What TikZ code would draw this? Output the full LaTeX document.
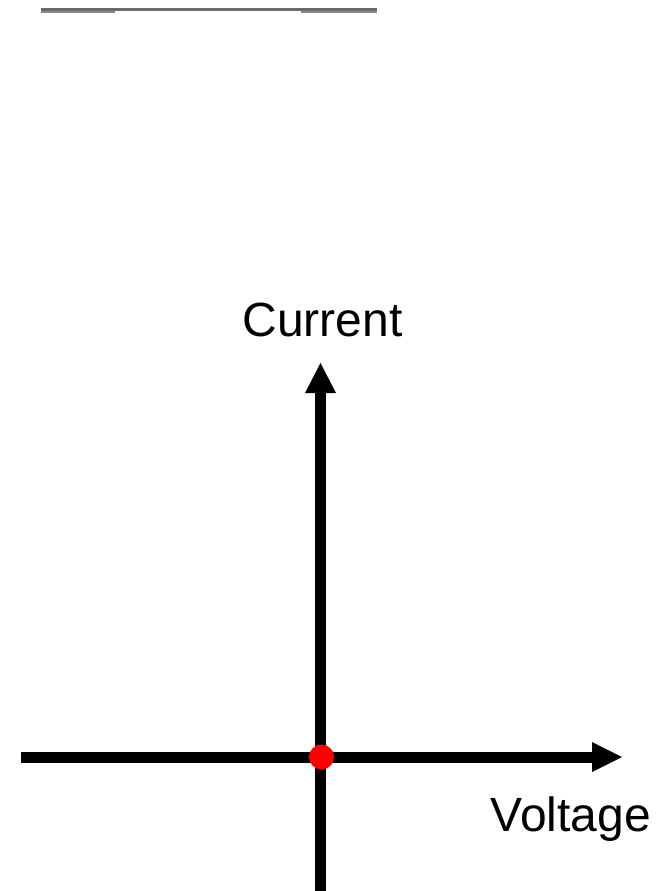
\documentclass[tikz,border=0pt]{standalone}
\usepackage{fontspec}
\setmainfont{Liberation Sans}
\definecolor{bardark}{HTML}{6B6B6B}
\definecolor{barlight}{HTML}{8A8A8A}
\begin{document}
\begin{tikzpicture}[x=1pt,y=-1pt,
  axisline/.style={line width=11pt},
  axishead/.style={fill=black},
  lbl/.style={font=\fontsize{48}{58}\selectfont, anchor=base, inner sep=0pt}]
\useasboundingbox[fill=white] (0,0) rectangle (659,891);
% top bar
\fill[barlight] (41,8) rectangle (115,13);
\fill[barlight] (301,8) rectangle (377,13);
\fill[bardark] (41,8) rectangle (377,11);
% axes
\coordinate (ybot) at (320.5,891);
\coordinate (ybase) at (320.5,393);
\coordinate (ytip) at (320.5,363);
\coordinate (xleft) at (21,757);
\coordinate (xbase) at (592,757);
\coordinate (xtip) at (622,757);
\draw[axisline] (ybot) -- (ybase);
\fill[axishead] (305,393) -- (ytip) -- (336,393) -- cycle;
\draw[axisline] (xleft) -- (xbase);
\fill[axishead] (592,742) -- (xtip) -- (592,772) -- cycle;
% origin dot
\node[circle, fill=red, minimum size=25pt, inner sep=0pt] (origin) at (321.5,757) {};
% labels
\node[lbl] (current) at (322.4,336) {Current};
\node[lbl] (voltage) at (571,831.7) {Voltage};
\end{tikzpicture}
\end{document}
